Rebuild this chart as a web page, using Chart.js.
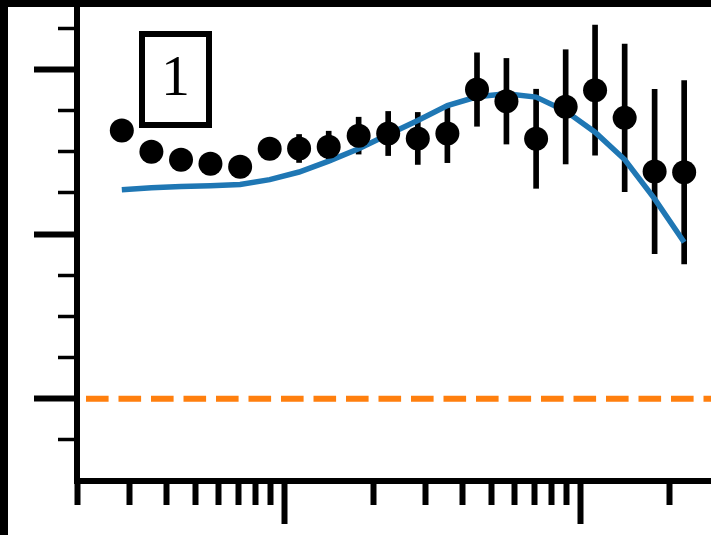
<!DOCTYPE html>
<html>
<head>
<meta charset="utf-8">
<script src="https://cdn.jsdelivr.net/npm/chart.js@4/dist/chart.umd.min.js"></script>
<style>
  html, body { margin: 0; padding: 0; background: #fff; overflow: hidden; }
  #wrap { position: relative; width: 711px; height: 535px; }
</style>
</head>
<body>
<div id="wrap"><canvas id="chart"></canvas></div>
<script>
// ---- data ----
const xValues = [0.282, 0.355, 0.447, 0.562, 0.708, 0.891, 1.12, 1.41, 1.78, 2.24,
                 2.82, 3.55, 4.47, 5.62, 7.08, 8.91, 11.2, 14.1, 17.8, 22.4];
const measured = [1.629, 1.500, 1.451, 1.427, 1.409, 1.518, 1.520, 1.530, 1.598, 1.611,
                  1.581, 1.611, 1.878, 1.807, 1.579, 1.773, 1.874, 1.706, 1.380, 1.376];
const errors = [0.03, 0.03, 0.03, 0.03, 0.04, 0.05, 0.085, 0.095, 0.112, 0.134,
                0.158, 0.177, 0.223, 0.26, 0.301, 0.347, 0.395, 0.448, 0.499, 0.557];
const model = [1.269, 1.281, 1.289, 1.293, 1.301, 1.331, 1.377, 1.443, 1.518, 1.605,
               1.690, 1.781, 1.834, 1.852, 1.832, 1.747, 1.619, 1.453, 1.214, 0.950];
const refLevel = 0;
const panelLabel = '1';

// axis ranges and tick values
const xMin = 0.199, xMax = 27.6;
const yMin = -0.5, yMax = 2.422;
const xMinorTicks = [0.2, 0.3, 0.4, 0.5, 0.6, 0.7, 0.8, 0.9, 1, 2, 3, 4, 5, 6, 7, 8, 9, 10, 20];
const xMajorTicks = [1, 10];
const yMinorTicks = [-0.25, 0, 0.25, 0.5, 0.75, 1, 1.25, 1.5, 1.75, 2, 2.25];
const yMajorTicks = [0, 1, 2];

const BLUE = '#1f77b4';
const ORANGE = '#ff7f0e';

function setTicks(values) {
    return scale => { scale.ticks = values.map(v => ({ value: v })); };
}

// frame pieces and the boxed panel label
const decorPlugin = {
    id: 'decor',
    afterDraw(chart) {
        const { ctx, chartArea: ca } = chart;
        ctx.save();
        // boxed label
        const bx = ca.left + 65, by = 34, bw = 67, bh = 91;
        ctx.fillStyle = '#fff';
        ctx.fillRect(bx, by, bw, bh);
        ctx.lineWidth = 6;
        ctx.strokeStyle = '#000';
        ctx.strokeRect(bx, by, bw, bh);
        ctx.fillStyle = '#000';
        ctx.font = '58px "Liberation Serif", "DejaVu Serif", serif';
        ctx.textAlign = 'center';
        ctx.textBaseline = 'alphabetic';
        ctx.fillText(panelLabel, bx + bw / 2, 95);
        // black frame edges
        ctx.fillRect(0, 0, chart.width, 7);
        ctx.fillRect(0, 0, 8, chart.height);
        ctx.restore();
    }
};

const ctx = document.getElementById('chart');
new Chart(ctx, {
    type: 'line',
    data: {
        datasets: [
            {
                // error bars
                type: 'bar',
                data: xValues.map((x, i) => ({ x: x, y: [measured[i] - errors[i], measured[i] + errors[i]] })),
                backgroundColor: '#000',
                borderWidth: 0,
                barThickness: 5,
                order: 3
            },
            {
                // reference level
                type: 'line',
                data: [{ x: xMin, y: refLevel }, { x: xMax, y: refLevel }],
                borderColor: ORANGE,
                borderWidth: 6,
                borderDash: [22.6, 9.9],
                borderDashOffset: 23.5,
                pointRadius: 0,
                order: 4
            },
            {
                // model curve
                type: 'line',
                data: xValues.map((x, i) => ({ x: x, y: model[i] })),
                borderColor: BLUE,
                borderWidth: 5.5,
                tension: 0,
                pointRadius: 0,
                order: 2
            },
            {
                // measured points
                type: 'line',
                data: xValues.map((x, i) => ({ x: x, y: measured[i] })),
                showLine: false,
                pointRadius: 12,
                pointBackgroundColor: '#000',
                pointBorderWidth: 0,
                order: 1
            }
        ]
    },
    options: {
        responsive: true,
        maintainAspectRatio: false,
        animation: false,
        layout: { autoPadding: false, padding: { left: 34, top: 0, right: 0, bottom: 11 } },
        plugins: { legend: { display: false }, tooltip: { enabled: false } },
        scales: {
            x: {
                type: 'logarithmic', position: 'bottom', axis: 'x', weight: 0,
                min: xMin, max: xMax, offset: false,
                afterBuildTicks: setTicks(xMinorTicks),
                ticks: { display: false },
                grid: { drawOnChartArea: false, offset: false, tickLength: 24, tickWidth: 6, tickColor: '#000' },
                border: { display: true, width: 6, color: '#000' }
            },
            x2: {
                type: 'logarithmic', position: 'bottom', axis: 'x', weight: 1,
                min: xMin, max: xMax, offset: false,
                afterBuildTicks: setTicks(xMajorTicks),
                ticks: { display: false },
                grid: { drawOnChartArea: false, offset: false, tickLength: 19, tickWidth: 6, tickColor: '#000' },
                border: { display: false }
            },
            y: {
                type: 'linear', position: 'left', axis: 'y', weight: 0,
                min: yMin, max: yMax, beginAtZero: false,
                afterBuildTicks: setTicks(yMinorTicks),
                ticks: { display: false },
                grid: {
                    drawOnChartArea: false, tickLength: 19, tickColor: '#000',
                    tickWidth: c => yMajorTicks.includes(c.tick.value) ? 6 : 3.5
                },
                border: { display: true, width: 6, color: '#000' }
            },
            y2: {
                type: 'linear', position: 'left', axis: 'y', weight: 1,
                min: yMin, max: yMax,
                afterBuildTicks: setTicks(yMajorTicks),
                ticks: { display: false },
                grid: { drawOnChartArea: false, tickLength: 24, tickWidth: 6, tickColor: '#000' },
                border: { display: false }
            }
        }
    },
    plugins: [decorPlugin]
});
</script>
</body>
</html>
